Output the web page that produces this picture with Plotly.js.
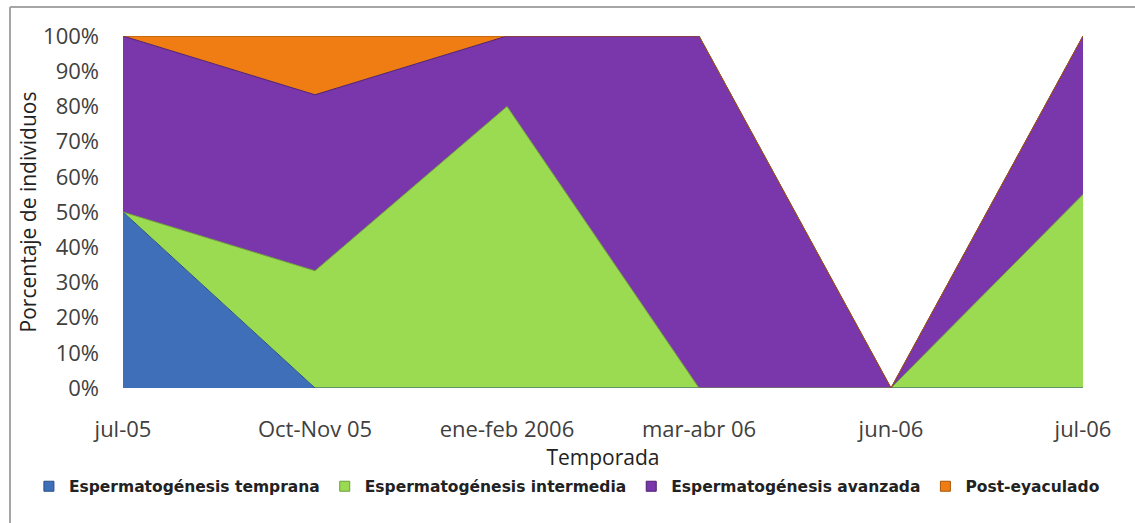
<!DOCTYPE html>
<html>
<head>
<meta charset="utf-8">
<script src="https://cdn.plot.ly/plotly-3.0.1.min.js"></script>
<style>html,body{margin:0;padding:0;background:#fff;}#chart{width:1135px;height:523px;}</style>
</head>
<body>
<div id="chart"></div>
<script>
const categories = ["jul-05", "Oct-Nov 05", "ene-feb 2006", "mar-abr 06", "jun-06", "jul-06"];
const seriesNames = ["Espermatogénesis temprana", "Espermatogénesis intermedia", "Espermatogénesis avanzada", "Post-eyaculado"];
const temprana   = [50, 0, 0, 0, 0, 0];
const intermedia = [0, 33.3, 80, 0, 0, 55];
const avanzada   = [50, 50, 20, 100, 0, 45];
const postEyac   = [0, 16.7, 0, 0, 0, 0];
const seriesValues = [temprana, intermedia, avanzada, postEyac];
const fillColors = ["#3E6FB8", "#9BDB52", "#7A36AB", "#EF7D14"];
const edgeColors = ["#2A4F85", "#6E9E38", "#4E1F70", "#A85708"];

const traces = [];
seriesValues.forEach((vals, i) => {
  traces.push({
    type: "scatter", mode: "lines", x: categories, y: vals,
    stackgroup: "one", name: seriesNames[i], showlegend: false,
    line: {color: edgeColors[i], width: 1}, fillcolor: fillColors[i],
    hoverinfo: "skip"
  });
});
seriesValues.forEach((vals, i) => {
  traces.push({
    type: "scatter", mode: "markers", x: [null], y: [null],
    name: seriesNames[i], showlegend: true,
    marker: {symbol: "square", size: 10, color: fillColors[i], line: {color: edgeColors[i], width: 1}}
  });
});

const layout = {
  width: 1135, height: 523,
  margin: {l: 123, r: 52, t: 36, b: 135},
  paper_bgcolor: "#ffffff", plot_bgcolor: "#ffffff",
  showlegend: true,
  legend: {
    orientation: "h", x: -0.098, xanchor: "left", y: -0.232, yanchor: "top",
    font: {family: "DejaVu Sans", size: 15.5, color: "#222222", weight: "bold"},
    itemwidth: 30, tracegroupgap: 0, traceorder: "normal"
  },
  xaxis: {
    type: "category", range: [0, 5], showgrid: false, zeroline: false, showline: false,
    ticks: "", ticklabelstandoff: 26,
    tickfont: {family: "Open Sans", size: 22, color: "#404040"},
    title: {text: "Temporada", standoff: 5, font: {family: "Open Sans", size: 21, color: "#222222"}}
  },
  yaxis: {
    range: [0, 100], dtick: 10, ticksuffix: "%", showgrid: false, zeroline: false, showline: false,
    ticks: "", ticklabelstandoff: 23,
    tickfont: {family: "Open Sans", size: 22, color: "#404040"},
    title: {text: "Porcentaje de individuos", standoff: 0, font: {family: "Open Sans", size: 21, color: "#222222"}}
  },
  shapes: [
    {type: "line", xref: "paper", yref: "paper", x0: -0.1177, x1: -0.1177, y0: 1.0824, y1: -0.40, line: {color: "#A6A6A6", width: 2}},
    {type: "line", xref: "paper", yref: "paper", x0: -0.1177, x1: 1.06, y0: 1.0824, y1: 1.0824, line: {color: "#A6A6A6", width: 2}}
  ]
};

Plotly.newPlot("chart", traces, layout, {displayModeBar: false, staticPlot: true});
</script>
</body>
</html>
